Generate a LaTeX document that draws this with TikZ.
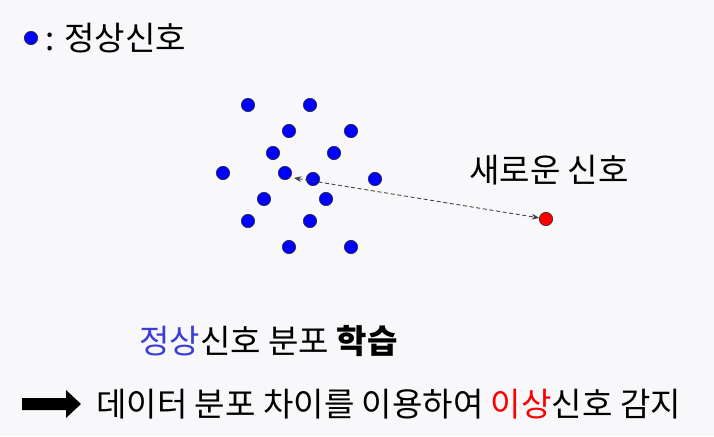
\documentclass[tikz,border=0pt]{standalone}
\usepackage{fontspec}
\setmainfont{Noto Sans CJK KR}
\usetikzlibrary{arrows.meta}
\definecolor{paper}{RGB}{248,248,250}
\definecolor{learnblue}{RGB}{60,60,215}
\definecolor{alertred}{RGB}{250,0,0}

\begin{document}
\begin{tikzpicture}[x=0.75pt,y=-0.75pt,
		dot/.style={circle,draw=black!85,line width=0.45pt,inner sep=0pt,minimum size=10pt},
		normal/.style={dot,fill=blue},
		txt/.style={anchor=west,inner sep=0pt,font=\fontsize{24.8}{29}\selectfont}]
			\fill[paper] (0,0) rectangle (714,436);
			\useasboundingbox (0,0) rectangle (714,436);
			% legend
			\node[normal] (key) at (31,38) {};
			\node[txt] (keytext) at (45,38) {: 정상신호};
			% normal signals
			\foreach \i/\x/\y in {1/248/105,2/310/105,3/289/131,4/351/131,5/273/153,6/334/153,
				7/223/173,8/285/173,9/313/179,10/375/179,11/264/199,12/326/199,
				13/248/221,14/310/221,15/289/247,16/351/247}
				\node[normal] (n\i) at (\x,\y) {};
			% the new signal and its distance
			\node[dot,fill=alertred] (new) at (546,219) {};
			\node[txt] (newtext) at (469,170) {새로운 신호};
			\coordinate (probe) at (294,178);
			\draw[{Stealth[length=5.5pt,width=4.4pt]}-{Stealth[length=5.5pt,width=4.4pt]},
				black!75,line width=0.65pt,dash pattern=on 3pt off 2pt] (probe) -- (new);
			% captions
			\node[txt] (learn) at (139,341) {\textcolor{learnblue}{정상}신호 분포 \textbf{학습}};
			\fill (22,398) -- (66,398) -- (66,390) -- (81,404) -- (66,418) -- (66,410) -- (22,410) -- cycle;
			\node[txt] (detect) at (96,404) {데이터 분포 차이를 이용하여 \textcolor{alertred}{이상}신호 감지};
		\end{tikzpicture}
\end{document}
